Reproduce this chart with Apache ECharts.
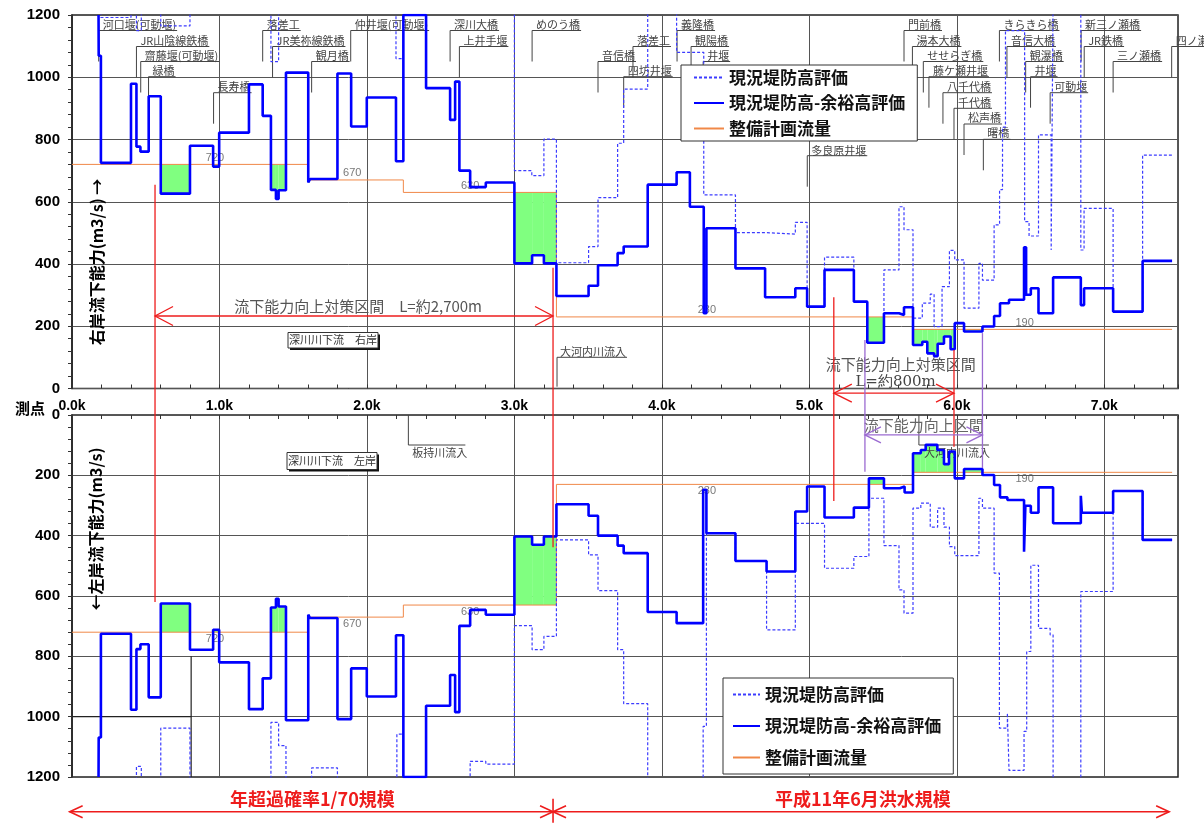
<!DOCTYPE html>
<html>
<head>
<meta charset="utf-8">
<script src="https://cdn.jsdelivr.net/npm/echarts@6/dist/echarts.min.js"></script>
<style>
html,body{margin:0;padding:0;background:#fff;}
#main{width:1204px;height:823px;}
</style>
</head>
<body>
<div id="main"></div>
<script>
// ---- flow capacity, right bank (km, m3/s) : each value holds until the next point ----
const rightMargin = [[0.18,1200],[0.181,1069],[0.196,725],[0.40,979],[0.437,777],[0.464,761],[0.52,939],[0.602,626],[0.80,780],[0.957,713],[0.998,822],[1.20,977],[1.293,876],[1.349,638],[1.383,609],[1.401,637],[1.451,1015],[1.602,662],[1.614,673],[1.80,1012],[1.893,842],[1.999,935],[2.197,730],[2.247,1200],[2.401,965],[2.564,863],[2.598,986],[2.627,700],[2.70,647],[2.806,662],[3.0,402],[3.12,428],[3.2,402],[3.285,297],[3.503,330],[3.567,396],[3.70,435],[3.741,456],[3.904,655],[4.1,695],[4.19,584],[4.284,242],[4.302,515],[4.499,386],[4.70,293],[4.905,322],[4.985,263],[5.103,381],[5.302,279],[5.393,147],[5.506,242],[5.608,236],[5.642,261],[5.703,140],[5.766,150],[5.80,113],[5.846,104],[5.87,144],[5.913,167],[5.958,126],[5.986,210],[6.049,183],[6.174,199],[6.253,233],[6.293,274],[6.354,285],[6.456,454],[6.47,301],[6.502,322],[6.554,242],[6.653,357],[6.841,268],[6.863,322],[7.06,247],[7.26,410],[7.46,410]];
const rightBank = [[0.18,1250],[0.196,1192],[0.40,1250],[0.437,1150],[0.47,1250],[0.602,1165],[0.80,1250],[1.349,1050],[1.401,1250],[2.197,1060],[2.247,1250],[3.0,700],[3.118,684],[3.2,801],[3.285,404],[3.503,456],[3.567,613],[3.70,788],[3.741,962],[3.904,1250],[4.1,1080],[4.284,622],[4.499,501],[4.70,496],[4.905,534],[4.985,263],[5.103,422],[5.302,279],[5.393,147],[5.506,381],[5.608,584],[5.642,510],[5.703,226],[5.766,274],[5.82,303],[5.846,199],[5.9,327],[5.95,444],[5.986,413],[6.049,258],[6.15,402],[6.174,348],[6.253,526],[6.29,639],[6.31,840],[6.33,1150],[6.46,536],[6.49,490],[6.554,815],[6.64,445],[6.653,1250],[6.841,445],[6.863,579],[7.06,247],[7.26,750],[7.46,750]];
const rightPlan = [[0,720],[1.602,670],[2.247,630],[3.285,230],[5.703,190],[7.46,190]];

// ---- flow capacity, left bank ----
const leftMargin = [[0.18,1200],[0.181,1069],[0.196,725],[0.40,977],[0.437,776],[0.464,760],[0.52,936],[0.602,625],[0.80,778],[0.957,712],[0.998,820],[1.20,975],[1.293,873],[1.349,638],[1.383,609],[1.401,635],[1.451,1012],[1.602,662],[1.614,673],[1.80,1008],[1.893,840],[1.999,933],[2.197,730],[2.247,1200],[2.401,964],[2.564,862],[2.598,985],[2.627,699],[2.70,646],[2.806,662],[3.0,403],[3.12,430],[3.2,403],[3.285,296],[3.503,334],[3.567,400],[3.70,433],[3.741,458],[3.904,653],[4.1,690],[4.28,248],[4.302,392],[4.499,484],[4.71,519],[4.905,320],[4.985,237],[5.103,340],[5.302,307],[5.404,210],[5.506,243],[5.614,237],[5.646,257],[5.703,127],[5.756,116],[5.789,99],[5.868,116],[5.913,163],[5.947,121],[5.986,210],[6.049,179],[6.174,199],[6.253,232],[6.293,273],[6.343,282],[6.456,453],[6.465,301],[6.502,324],[6.554,240],[6.653,359],[6.841,268],[6.848,324],[7.06,252],[7.26,414],[7.46,414]];
const leftBank = [[0.18,1250],[0.437,1165],[0.47,1250],[0.602,1038],[0.80,1250],[1.349,1019],[1.401,1096],[1.451,1250],[1.625,1170],[1.80,1250],[2.203,1058],[2.247,1250],[2.70,1148],[2.806,1157],[3.0,698],[3.12,778],[3.2,734],[3.285,414],[3.503,464],[3.567,582],[3.70,778],[3.741,957],[3.904,1250],[4.28,1032],[4.302,392],[4.499,484],[4.71,712],[4.905,359],[4.985,359],[5.103,508],[5.302,469],[5.404,276],[5.506,433],[5.608,580],[5.642,657],[5.703,309],[5.756,292],[5.82,372],[5.87,309],[5.913,372],[5.95,436],[5.986,466],[6.15,276],[6.174,309],[6.253,524],[6.289,1038],[6.343,988],[6.354,1178],[6.456,1049],[6.474,784],[6.502,498],[6.554,707],[6.633,729],[6.653,1250],[6.841,585],[7.06,252],[7.26,414],[7.46,414]];
const leftPlan = [[0,720],[1.602,670],[2.247,630],[3.285,230],[5.703,190],[7.46,190]];

// where the plan-flow value is written along the line (km)
const planLabelKm = [0.97, 1.90, 2.70, 4.305, 6.46];

// axis ticks
const kmTicks = {min: 0, max: 7.5, major: 1, minor: 0.2};
const qTicks = {min: 0, max: 1200, step: 200};

// landmarks along the river: name, km, text tier
const landmarkNames = ['河口堰(可動堰)','JR山陰線鉄橋','齋藤堰(可動堰)','緑橋','長寿橋','落差工','JR美祢線鉄橋','観月橋','仲井堰(可動堰)','深川大橋','上井手堰','めのう橋','音信橋','落差工','四坊井堰','義隆橋','観陽橋','井堰','門前橋','湯本大橋','せせらぎ橋','藤ケ瀬井堰','八千代橋','千代橋','松声橋','曙橋','多良原井堰','きらきら橋','音信大橋','観瀑橋','井堰','可動堰','新三ノ瀬橋','JR鉄橋','三ノ瀬橋','四ノ瀬橋'];
const landmarkKm = [0.181,0.437,0.466,0.519,0.96,1.293,1.36,1.625,1.89,2.564,2.627,3.12,3.567,3.804,3.741,4.103,4.198,4.28,5.642,5.699,5.773,5.811,5.906,5.981,6.049,6.18,4.986,6.289,6.34,6.467,6.50,6.633,6.843,6.864,7.06,7.457];
const landmarkTier = [0,1,2,3,4,0,1,2,0,0,1,0,2,1,3,0,1,2,0,1,2,3,4,5,6,7,8,0,1,2,3,4,0,1,2,1];

const names = ['現況堤防高評価','現況堤防高-余裕高評価','整備計画流量'];

const JP = "'Noto Sans CJK JP','Noto Sans',sans-serif";
const NUM = "'Liberation Sans',Arial,sans-serif";
const BLUE = '#0000ff', DASH = '#3c3cff', PLAN = '#f08848', GREEN = '#80ff80', RED = '#ee1c1c', PURPLE = '#9b6bd1';

function stepAt(pts, x) {
  let v = null;
  for (const p of pts) { if (p[0] <= x) v = p[1]; else break; }
  return v;
}
// intervals where capacity falls short of the plan flow
function shortfall(cap, plan) {
  const end = Math.min(cap[cap.length - 1][0], plan[plan.length - 1][0]);
  const xs = Array.from(new Set(cap.map(p => p[0]).concat(plan.map(p => p[0])))).sort((a, b) => a - b);
  const out = [];
  for (let i = 0; i < xs.length - 1; i++) {
    const m = (xs[i] + xs[i + 1]) / 2;
    if (m >= end) break;
    const c = stepAt(cap, m), q = stepAt(plan, m);
    if (c != null && q != null && c < q) out.push([xs[i], xs[i + 1], c, q]);
  }
  return out;
}

function stepLine(name, data, xi, yi, color, width, type, z) {
  return {type: 'line', name, data, xAxisIndex: xi, yAxisIndex: yi, step: 'end', symbol: 'none',
    clip: true, silent: true, z, lineStyle: {color, width, type}, itemStyle: {color}};
}
function fillSeries(cap, plan, xi, yi) {
  return {type: 'custom', xAxisIndex: xi, yAxisIndex: yi, silent: true, z: 1, clip: true,
    data: shortfall(cap, plan),
    renderItem: (params, api) => {
      const a = api.coord([api.value(0), api.value(2)]);
      const b = api.coord([api.value(1), api.value(3)]);
      return {type: 'rect', shape: {x: Math.min(a[0], b[0]), y: Math.min(a[1], b[1]),
        width: Math.abs(b[0] - a[0]), height: Math.abs(b[1] - a[1])}, style: {fill: GREEN}};
    }};
}
function planLabels(plan, xi, yi, pos) {
  return {type: 'scatter', xAxisIndex: xi, yAxisIndex: yi, symbolSize: 0, silent: true, z: 3,
    data: planLabelKm.map(k => [k, stepAt(plan, k)]),
    label: {show: true, position: pos, distance: 1, formatter: p => String(p.value[1]),
      fontSize: 11, color: '#555', fontFamily: NUM}};
}

function kmAxis(grid, pos, withLabels) {
  return {type: 'value', gridIndex: grid, position: pos, min: kmTicks.min, max: kmTicks.max, interval: kmTicks.major,
    axisLine: {show: false}, axisTick: {show: false},
    axisLabel: {show: withLabels, margin: 11, showMaxLabel: false, fontSize: 14, fontWeight: 'bold', color: '#000',
      fontFamily: NUM, formatter: v => v.toFixed(1) + 'k'},
    splitLine: {show: true, lineStyle: {color: '#555', width: 1}}};
}
function kmTickAxis(grid, pos) {
  return {type: 'value', gridIndex: grid, position: pos, min: kmTicks.min, max: kmTicks.max, interval: kmTicks.minor,
    axisLine: {show: false}, axisLabel: {show: false}, splitLine: {show: false},
    axisTick: {show: true, inside: true, length: 4, lineStyle: {color: '#333'}}};
}
function qAxis(grid, inverse) {
  return {type: 'value', gridIndex: grid, inverse, min: qTicks.min, max: qTicks.max, interval: qTicks.step,
    axisLine: {show: true, lineStyle: {color: '#222', width: 1.5}},
    axisTick: {show: true, length: 4, lineStyle: {color: '#333'}},
    minorTick: {show: true, splitNumber: 5, length: 4, lineStyle: {color: '#333'}},
    axisLabel: {margin: 12, fontSize: 15, fontWeight: 'bold', color: '#000', fontFamily: NUM, formatter: v => String(v)},
    splitLine: {show: true, lineStyle: {color: '#555', width: 1}}};
}
function legendBox(left, top, gap, padding, iw) {
  return {left, top, orient: 'vertical', data: names, selectedMode: false,
    itemWidth: iw, itemHeight: 14, itemGap: gap, padding,
    itemStyle: {color: 'rgba(0,0,0,0)', borderColor: 'rgba(0,0,0,0)', borderWidth: 0},
    backgroundColor: '#fff', borderColor: '#333', borderWidth: 1,
    textStyle: {fontSize: 17, fontWeight: 'bold', color: '#111', fontFamily: JP, lineHeight: 19}};
}

const option = {
  animation: false,
  backgroundColor: '#fff',
  grid: [
    {left: 72, top: 15, width: 1106, height: 373.5, show: true, borderColor: '#222', borderWidth: 1.5, backgroundColor: 'transparent'},
    {left: 72, top: 415, width: 1106, height: 362, show: true, borderColor: '#222', borderWidth: 1.5, backgroundColor: 'transparent'}
  ],
  xAxis: [kmAxis(0, 'bottom', true), kmTickAxis(0, 'bottom'), kmAxis(1, 'top', false), kmTickAxis(1, 'top')],
  yAxis: [qAxis(0, false), qAxis(1, true)],
  legend: [legendBox(681, 65, 6.5, [3, 12, 3, 12], 30), legendBox(723, 678, 12.5, [7, 12, 7, 9], 27)],
  series: [
    fillSeries(rightMargin, rightPlan, 0, 0),
    stepLine(names[2], rightPlan, 0, 0, PLAN, 1, 'solid', 2),
    stepLine(names[0], rightBank, 0, 0, DASH, 1.2, [3, 2], 3),
    stepLine(names[1], rightMargin, 0, 0, BLUE, 2.6, 'solid', 4),
    planLabels(rightPlan, 0, 0, 'top'),
    fillSeries(leftMargin, leftPlan, 2, 1),
    stepLine(names[2], leftPlan, 2, 1, PLAN, 1, 'solid', 2),
    stepLine(names[0], leftBank, 2, 1, DASH, 1.2, [3, 2], 3),
    stepLine(names[1], leftMargin, 2, 1, BLUE, 2.6, 'solid', 4),
    planLabels(leftPlan, 2, 1, 'bottom')
  ]
};

const chart = echarts.init(document.getElementById('main'), null, {renderer: 'canvas'});
chart.setOption(option);

// ---- annotations placed from axis coordinates ----
const P = (g, x, y) => chart.convertToPixel({gridIndex: g}, [x, y]);
const els = [];
function txt(x, y, s, font, fill, align, extra) {
  const e = {type: 'text', x, y, z: 1, silent: true,
    style: Object.assign({text: s, font, fill, align: align || 'left', verticalAlign: 'middle',
      textAlign: align || 'left', textVerticalAlign: 'middle'}, extra || {})};
  els.push(e); return e;
}
function line(pts, stroke, w, z) {
  els.push({type: 'polyline', z: z || 1, silent: true, shape: {points: pts}, style: {stroke, lineWidth: w, fill: null}});
}
function arrow(x1, x2, y, head, half, color, w, z) {
  line([[x1, y], [x2, y]], color, w, z);
  line([[x1 + head, y - half], [x1, y], [x1 + head, y + half]], color, w, z);
  line([[x2 - head, y - half], [x2, y], [x2 - head, y + half]], color, w, z);
}

const measure = document.createElement('canvas').getContext('2d');
const LM_FONT = "11px " + JP;
measure.font = LM_FONT;
const tierText = [24.5, 41, 56, 71, 87.3, 103.3, 118.3, 133.3, 150.7];
const tierLine = [30.5, 46.5, 61.5, 76.7, 92.7, 108.3, 124, 139.3, 155.7];
landmarkNames.forEach((nm, i) => {
  const x = P(0, landmarkKm[i], 0)[0];
  const t = landmarkTier[i];
  const w = measure.measureText(nm).width;
  txt(x + 4, tierText[t], nm, LM_FONT, '#444');
  line([[x, tierLine[t] + 31], [x, tierLine[t]], [x + 5 + w, tierLine[t]]], '#444', 1);
});

// tributary inflows
(function () {
  let x = P(0, 3.289, 0)[0];
  let w = measure.measureText('大河内川流入').width;
  txt(x + 3, 352.3, '大河内川流入', LM_FONT, '#444');
  line([[x, 386.7], [x, 357.3], [x + 4 + w, 357.3]], '#444', 1);
  x = P(1, 2.281, 0)[0];
  w = measure.measureText('板持川流入').width;
  line([[x, 415], [x, 445], [x + w + 2, 445]], '#444', 1);
  txt(x + 4, 453, '板持川流入', LM_FONT, '#444');
  x = P(1, 5.743, 0)[0];
  w = measure.measureText('大河内川流入').width;
  line([[x, 415], [x, 445], [x + w + 4, 445]], '#444', 1);
  txt(x + 5, 453, '大河内川流入', LM_FONT, '#444');
})();

// section name boxes
function nameBox(x, y, w, h, s) {
  els.push({type: 'rect', z: 5, silent: true, shape: {x: x + 2, y: y + 2, width: w, height: h}, style: {fill: '#111'}});
  els.push({type: 'rect', z: 5, silent: true, shape: {x, y, width: w, height: h}, style: {fill: '#fff', stroke: '#333', lineWidth: 1}});
  els.push({type: 'text', z: 6, silent: true, x: x + w / 2, y: y + h / 2,
    style: {text: s, font: LM_FONT, fill: '#333', align: 'center', verticalAlign: 'middle', textAlign: 'center', textVerticalAlign: 'middle'}});
}
nameBox(288, 332.5, 90, 15.5, '深川川下流　右岸');
nameBox(287, 452.5, 90, 17, '深川川下流　左岸');

// improvement sections (red) and target section (purple)
(function () {
  const xa = P(0, 0.563, 0)[0], xb = P(0, 3.262, 0)[0];
  line([[xa, P(0, 0, 655)[1]], [xa, P(1, 0, 620)[1]]], RED, 1.3, 6);
  line([[xb, P(0, 0, 388)[1]], [xb, P(1, 0, 438)[1]]], RED, 1.3, 6);
  const ya = P(0, 0, 233)[1];
  arrow(xa, xb, ya, 18, 9.5, RED, 1.3, 6);
  txt(P(0, 1.94, 0)[0], P(0, 0, 263)[1], '流下能力向上対策区間　L=約2,700m', "15px " + JP, '#555', 'center');

  const xc = P(0, 5.166, 0)[0], xd = P(0, 5.981, 0)[0];
  line([[xc, P(0, 0, 293)[1]], [xc, P(1, 0, 285)[1]]], RED, 1.3, 6);
  line([[xd, P(0, 0, 124)[1]], [xd, P(1, 0, 105)[1]]], RED, 1.3, 6);
  arrow(xc, xd, P(0, 0, -15)[1], 18, 9, RED, 1.3, 6);
  txt(P(0, 5.62, 0)[0], P(0, 0, 79)[1], '流下能力向上対策区間', "15px " + JP, '#555', 'center', {});
  txt(P(0, 5.585, 0)[0], P(0, 0, 19)[1], 'L=約800m', "15px 'DejaVu Serif',serif", '#444', 'center');

  const xe = P(0, 5.377, 0)[0], xf = P(0, 6.174, 0)[0];
  line([[xe, P(0, 0, 156)[1]], [xe, P(1, 0, 188)[1]]], PURPLE, 1.3, 6);
  line([[xf, P(0, 0, 178)[1]], [xf, P(1, 0, 176)[1]]], PURPLE, 1.3, 6);
  arrow(xe, xf, P(1, 0, 66)[1], 16, 8, PURPLE, 1.3, 6);
  txt((xe + xf) / 2, P(1, 0, 33)[1], '流下能力向上区間', "15px " + JP, '#666', 'center');

  // flood scale ranges along the bottom
  const y = 811.7, x0 = P(1, -0.016, 0)[0], xm = P(1, 3.262, 0)[0], x1 = P(1, 7.44, 0)[0];
  line([[x0, y], [x1, y]], RED, 1.6, 6);
  line([[x0 + 13, y - 6], [x0, y], [x0 + 13, y + 6]], RED, 1.6, 6);
  line([[x1 - 13, y - 6], [x1, y], [x1 - 13, y + 6]], RED, 1.6, 6);
  line([[xm - 13, y - 6], [xm, y], [xm - 13, y + 6]], RED, 1.6, 6);
  line([[xm + 13, y - 6], [xm, y], [xm + 13, y + 6]], RED, 1.6, 6);
  line([[xm, y - 13], [xm, y + 11]], RED, 1.6, 6);
  txt(P(1, 1.63, 0)[0], 799, '年超過確率1/70規模', "bold 18px " + JP, RED, 'center');
  txt(P(1, 5.363, 0)[0], 799, '平成11年6月洪水規模', "bold 18px " + JP, RED, 'center');
})();

// axis titles and station label
txt(97, 262, '右岸流下能力(m3/s) →', "bold 16px " + JP, '#000', 'center').rotation = Math.PI / 2;
txt(96, 529, '←左岸流下能力(m3/s)', "bold 16px " + JP, '#000', 'center').rotation = Math.PI / 2;
txt(15, 408, '測点', "bold 15px " + JP, '#000', 'left');

// old boundary marks in the left-bank panel
(function () {
  const p = P(1, 0.808, 800), q = P(1, 0.808, 1200), r = P(1, 0, 1000);
  line([[p[0], p[1]], [q[0], q[1]]], '#222', 1.2, 1);
  line([[r[0], r[1]], [p[0], r[1]]], '#222', 1.2, 1);
})();

chart.setOption({graphic: {elements: els}});
</script>
</body>
</html>
